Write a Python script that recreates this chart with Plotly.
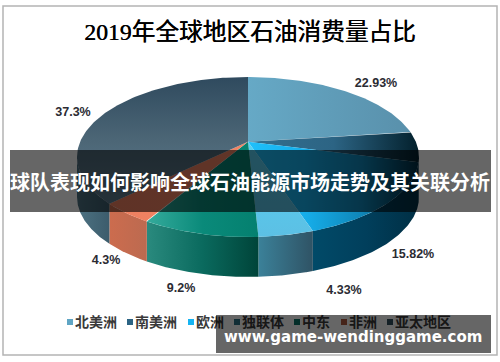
import numpy as np
import plotly.graph_objects as go

# ---- data ----
categories = ["北美洲", "南美洲", "欧洲", "独联体", "中东", "非洲", "亚太地区"]
shares = [22.93, 6.12, 15.82, 4.33, 9.2, 4.3, 37.3]
share_labels = ["22.93%", "", "15.82%", "4.33%", "9.2%", "4.3%", "37.3%"]

title = "2019年全球地区石油消费量占比"
banner_text = "球队表现如何影响全球石油能源市场走势及其关联分析"
site_text = "www.game-wendinggame.com"

# ---- styles ----
top_grad = [
    ("horizontal", ["#66a9c6", "#5990ab"]),
    ("horizontal", ["#34708f", "#2c6484", "#03202c"]),
    ("horizontal", ["#1fc0fb", "#16aeea", "#0f86b8", "#012c40"]),
    ("vertical", ["#5cc0e4", "#56d0f2"]),
    ("horizontal", ["#35ab9c", "#0a8a7a", "#04806f"]),
    ("horizontal", ["#ee8060", "#f08464"]),
    ("vertical", ["#5f7d8f", "#4c6676", "#2f4a5e"]),
]
wall_grad = [
    ["#2c6484", "#2c6484"],
    ["#2c6484", "#2c6484"],
    ["#014a68", "#013f5c", "#002f44"],
    ["#3b8199", "#2f5365"],
    ["#2a8a7e", "#0a6a5e", "#004439"],
    ["#cc6c4e", "#bc6a50"],
    ["#4d7282", "#3c5c6c"],
]
legend_colors = ["#5fa5c4", "#2c6484", "#16b4f2", "#2c7086", "#0a7468", "#b05a40", "#33505f"]
legend_sq_x = [70, 130, 191, 237, 297, 344, 390]
label_xy = [(376, 84), None, (413, 255), (344, 291), (181, 289), (106, 261), (73, 113)]

CX, CY, RX, RY = 248, 157, 171, 80   # ellipse of the top face
DEPTH = 40
K = 0.825                            # perspective squeeze of the angles


def persp(theta):
    """Map a true pie angle to the ellipse parameter under perspective."""
    return 2 * np.arctan2(K * np.sin(theta / 2), np.cos(theta / 2)) % (2 * np.pi + 1e-9)


def ell(phi):
    return CX + RX * np.sin(phi), CY - RY * np.cos(phi)


apex_y = CY - RY * (1 - K**2) / (1 + K**2)   # image of circle centre
cum = np.concatenate([[0], np.cumsum(shares)]) / np.sum(shares) * 2 * np.pi
fig = go.Figure()


def scale(cols):
    return [[i / (len(cols) - 1), c] for i, c in enumerate(cols)]


# walls
for i, name in enumerate(categories):
    a, b = persp(cum[i]), persp(cum[i + 1])
    if i == len(categories) - 1:
        b = 2 * np.pi
    a2, b2 = max(a, np.pi / 2), min(b, 3 * np.pi / 2)
    if b2 <= a2:
        continue
    p = np.linspace(a2, b2, 80)
    x, y = ell(p)
    xs = np.concatenate([x, x[::-1]])
    ys = np.concatenate([y, y[::-1] + DEPTH])
    fig.add_trace(go.Scatter(x=xs, y=ys, mode="lines", line=dict(width=0), fill="toself",
                             fillgradient=dict(type="horizontal", colorscale=scale(wall_grad[i])),
                             hoverinfo="skip", showlegend=False))

# top face
for i, name in enumerate(categories):
    a, b = persp(cum[i]), persp(cum[i + 1])
    if i == len(categories) - 1:
        b = 2 * np.pi
    p = np.linspace(a, b, 120)
    x, y = ell(p)
    xs = np.concatenate([[CX], x, [CX]])
    ys = np.concatenate([[apex_y], y, [apex_y]])
    typ, cols = top_grad[i]
    fig.add_trace(go.Scatter(x=xs, y=ys, mode="lines", line=dict(width=0), fill="toself",
                             fillgradient=dict(type=typ, colorscale=scale(cols)),
                             name=name, hoverinfo="skip", showlegend=False))

# value labels
lx = [p[0] for p in label_xy if p]
ly = [p[1] for p in label_xy if p]
lt = [t for t in share_labels if t]
fig.add_trace(go.Scatter(x=lx, y=ly, mode="text", text=lt, textposition="middle center",
                         textfont=dict(family="Liberation Sans", size=12.5, color="#2b2b33", weight="bold"),
                         hoverinfo="skip", showlegend=False))

# legend
fig.add_trace(go.Scatter(x=legend_sq_x, y=[322] * 7, mode="markers",
                         marker=dict(symbol="square", size=6, color=legend_colors),
                         hoverinfo="skip", showlegend=False))
fig.add_trace(go.Scatter(x=[x + 5 for x in legend_sq_x], y=[323] * 7, mode="text", text=categories,
                         textposition="middle right",
                         textfont=dict(family="Noto Sans CJK SC", size=14, color="#3a3a3a", weight="bold"),
                         hoverinfo="skip", showlegend=False))

# title
fig.add_trace(go.Scatter(x=[250], y=[34], mode="text", text=[title], textposition="middle center",
                         textfont=dict(family="'Liberation Serif','Noto Sans CJK SC'", size=23.7, color="#000000",
                                       shadow="0.4px 0 0 #000000"),
                         hoverinfo="skip", showlegend=False))

shapes = [
    dict(type="rect", x0=3, x1=497, y0=6, y1=355, line=dict(color="#b4b4b4", width=1.5), layer="below"),
    dict(type="rect", x0=10, x1=491, y0=150, y1=212, fillcolor="rgba(0,0,0,0.6)", line=dict(width=0), layer="above"),
    dict(type="rect", x0=216, x1=491, y0=315, y1=353, fillcolor="rgba(0,0,0,0.6)", line=dict(width=0), layer="above"),
]
annotations = [
    dict(x=250, y=181, text=banner_text, showarrow=False, xref="x", yref="y",
         font=dict(family="Noto Sans CJK SC", size=20, color="white", weight="bold")),
    dict(x=353, y=337, text=site_text, showarrow=False, xref="x", yref="y",
         font=dict(family="DejaVu Sans", size=15, color="white", weight="bold")),
]
fig.update_layout(width=500, height=362, margin=dict(l=0, r=0, t=0, b=0),
                  paper_bgcolor="white", plot_bgcolor="white", showlegend=False,
                  xaxis=dict(range=[0, 500], visible=False, fixedrange=True),
                  yaxis=dict(range=[362, 0], visible=False, fixedrange=True),
                  shapes=shapes, annotations=annotations)
fig.write_html("out.html", post_script="document.body.style.margin='0';",
               config={"displayModeBar": False})
